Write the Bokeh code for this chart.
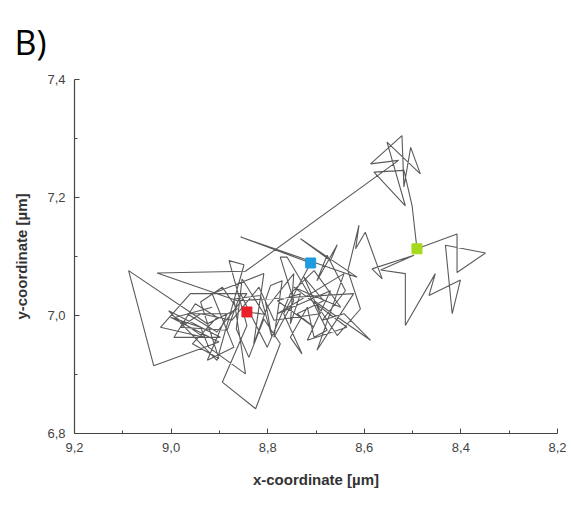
from bokeh.plotting import figure
from bokeh.models import Range1d, CustomJSTickFormatter, FixedTicker
from bokeh.embed import file_html
from bokeh.resources import INLINE

# trajectory (x, y in µm)
traj_x = [8.915, 8.991, 8.932, 9.022, 8.960, 8.843, 8.905, 8.967, 8.884, 8.925, 8.870, 8.915, 8.808,
          8.829, 8.801, 8.746, 8.753, 8.732, 8.780, 8.704, 8.739, 8.684, 8.725, 8.691, 8.787, 8.818,
          8.874, 8.939, 8.981, 8.884, 8.856,
          8.836, 8.801, 8.753, 8.704, 8.649, 8.746, 8.636, 8.718, 8.670, 8.780, 8.642, 8.698, 8.622,
          8.863, 9.029, 8.846, 8.529,
          8.587, 8.522, 8.518, 8.504, 8.484, 8.553, 8.515, 8.580, 8.518, 8.501, 8.491,
          8.408, 8.408, 8.349, 8.432, 8.418, 8.401, 8.466, 8.453, 8.515, 8.515, 8.566, 8.497, 8.584, 8.563,
          8.598, 8.618, 8.611, 8.634, 8.608, 8.656, 8.704, 8.587, 8.642, 8.687, 8.639, 8.677, 8.698, 8.656,
          8.670, 8.732, 8.615, 8.856, 8.711,
          8.767, 8.729, 8.753, 8.718, 8.704, 8.677, 8.715, 8.760, 8.774, 8.746, 8.787, 8.770, 8.794, 8.805,
          8.791, 8.815, 8.870, 8.846, 8.922, 8.939, 9.001, 8.901, 9.036, 9.088, 8.925, 8.863, 8.894, 8.939,
          8.901, 8.956, 8.905, 8.950, 8.994, 8.898, 9.005, 8.905, 8.849, 8.880, 8.843, 8.894, 8.825, 8.774,
          8.808, 8.839, 8.865, 8.853, 8.807, 8.843]
traj_y = [7.014, 6.997, 6.963, 6.980, 7.037, 7.037, 6.972, 7.003, 7.003, 6.924, 6.946, 7.037, 7.071,
          6.952, 7.014, 7.071, 6.986, 7.037, 7.025, 6.980, 7.003, 7.025, 7.065, 7.003, 6.992, 7.048,
          6.992, 7.003, 6.980, 6.975, 7.037,
          7.003, 6.946, 7.037, 7.076, 7.014, 7.048, 6.980, 6.958, 7.042, 7.003, 7.071, 6.941, 7.037,
          7.025, 7.072, 7.075, 7.263,
          7.257, 7.305, 7.218, 7.285, 7.240, 7.294, 7.186, 7.243, 7.246, 7.186, 7.113,
          7.138, 7.073, 7.106, 7.119, 7.003, 7.060, 7.034, 7.071, 6.983, 7.071, 7.077, 7.102, 7.079, 7.062,
          7.141, 7.113, 7.153, 7.076, 7.011, 6.966, 7.025, 6.958, 7.003, 6.992, 7.042, 7.102, 7.059, 7.120,
          7.093, 7.130, 7.065, 7.133, 7.089,
          7.003, 6.935, 6.963, 7.014, 6.963, 6.975, 7.037, 7.099, 7.099, 7.025, 6.963, 7.059, 7.051, 7.025,
          6.963, 7.034, 7.028, 6.901, 6.946, 6.980, 6.997, 6.955, 6.915, 7.076, 6.986, 7.011, 7.048, 7.023,
          6.927, 6.952, 6.997, 7.020, 6.963, 6.963, 7.008, 6.924, 7.086, 7.093, 6.983, 6.887, 6.842, 6.952,
          6.994, 6.929, 6.977, 7.062, 7.002, 7.006]

# highlighted positions
mark_x = [8.843, 8.711, 8.491]
mark_y = [7.006, 7.089, 7.113]
mark_colors = ["#e8202a", "#1f9be0", "#a6d81e"]

x_ticks = [9.2, 9.0, 8.8, 8.6, 8.4, 8.2]
x_minor = [9.1, 8.9, 8.7, 8.5, 8.3]
y_ticks = [6.8, 7.0, 7.2, 7.4]
y_minor = [6.9, 7.1, 7.3]

p = figure(width=571, height=511, output_backend="svg", toolbar_location=None,
           x_range=Range1d(9.2, 8.2), y_range=Range1d(6.8, 7.4),
           min_border_left=74, min_border_right=14, min_border_top=79, min_border_bottom=78)
p.outline_line_color = None
p.background_fill_color = "white"
p.border_fill_color = "white"
p.xgrid.visible = False
p.ygrid.visible = False

p.title.text = "B)"
p.title.text_font = "Open Sans"
p.title.text_font_size = "34px"
p.title.text_font_style = "normal"
p.title.text_color = "black"
p.title.align = "left"
p.title.offset = -60
p.title.standoff = 30

p.line(traj_x, traj_y, line_color="#5a5a5a", line_width=1.1)
p.scatter(mark_x, mark_y, marker="square", size=10, fill_color=mark_colors, line_color=mark_colors)

fmt = CustomJSTickFormatter(code="return tick.toFixed(1).replace('.', ',');")
for ax, ticks, minor in ((p.xaxis, x_ticks, x_minor), (p.yaxis, y_ticks, y_minor)):
    ax.ticker = FixedTicker(ticks=ticks, minor_ticks=minor)
    ax.formatter = fmt
    ax.axis_line_color = "#444444"
    ax.axis_line_width = 1.2
    ax.major_tick_line_color = "#444444"
    ax.minor_tick_line_color = "#444444"
    ax.major_tick_in = 5
    ax.major_tick_out = 0
    ax.minor_tick_in = 3
    ax.minor_tick_out = 0
    ax.major_label_text_font = "Liberation Sans"
    ax.major_label_text_font_size = "13px"
    ax.major_label_text_color = "#444444"
    ax.axis_label_text_font = "Liberation Sans"
    ax.axis_label_text_font_size = "15px"
    ax.axis_label_text_font_style = "bold"
    ax.axis_label_text_color = "#333333"

p.xaxis.axis_label = "x-coordinate [µm]"
p.yaxis.axis_label = "y-coordinate [µm]"
p.xaxis.major_label_standoff = 9
p.yaxis.major_label_standoff = 9
p.xaxis.axis_label_standoff = 16
p.yaxis.axis_label_standoff = 14

open("out.html", "w").write(file_html(p, INLINE))
